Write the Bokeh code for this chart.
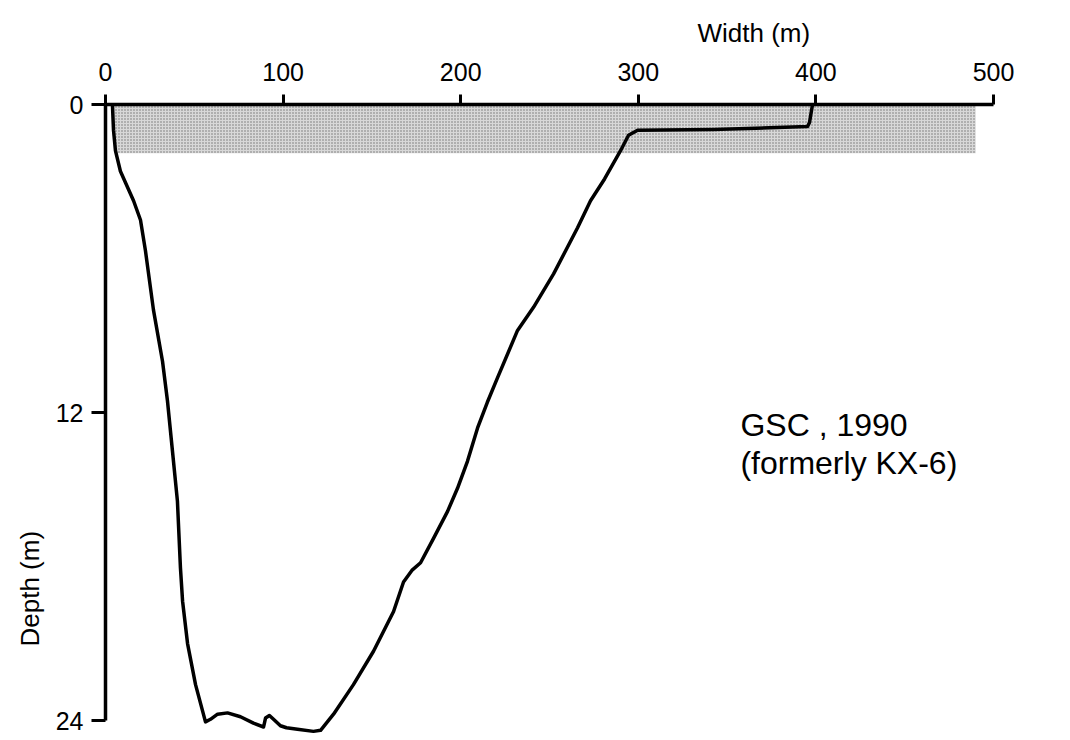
from bokeh.plotting import figure
from bokeh.models import Range1d, FixedTicker, Label, Title
from bokeh.embed import file_html
from bokeh.resources import INLINE

# Channel cross-section profile (width in m, depth in m)
width_m = [3.9, 4.5, 5.6, 8.4, 15.8, 19.7, 22.5, 27.0, 32.1, 34.9, 37.7, 40.5,
           42.2, 43.4, 46.2, 50.7, 56.3, 59.1, 63.1, 68.7, 76.0, 83.3, 89.0,
           90.1, 92.3, 94.6, 98.5, 101.9, 108.1, 117.1, 121.1, 128.4, 139.6,
           150.9, 162.2, 167.8, 172.5, 177.4, 184.7, 192.6, 198.2, 203.8,
           209.5, 215.0, 220.7, 232.0, 241.0, 252.3, 265.8, 273.1, 281.0,
           290.0, 294.5, 299.6, 342.3, 395.3, 396.4, 398.1]
depth_m = [0.0, 1.0, 1.8, 2.6, 3.75, 4.5, 5.7, 8.0, 10.0, 11.55, 13.5, 15.45,
           18.05, 19.35, 21.0, 22.6, 24.05, 23.95, 23.75, 23.7, 23.85, 24.1,
           24.25, 23.9, 23.8, 23.95, 24.2, 24.28, 24.34, 24.42, 24.38, 23.75,
           22.6, 21.3, 19.75, 18.6, 18.15, 17.85, 16.9, 15.85, 14.95, 13.9,
           12.6, 11.6, 10.65, 8.8, 7.9, 6.6, 4.8, 3.75, 2.9, 1.8, 1.2, 1.0,
           0.97, 0.86, 0.7, 0.0]

x_ticks = [0, 100, 200, 300, 400, 500]
y_ticks = [0, 12, 24]

# surface (shaded) layer
band_left = [4.8]
band_right = [490.0]
band_top = [0.0]
band_bottom = [1.9]

FONT = "Liberation Sans"

p = figure(width=1054, height=736, output_backend="svg", toolbar_location=None,
           x_range=Range1d(0, 500), y_range=Range1d(24.62, 0),
           x_axis_location="above",
           min_border_left=105, min_border_right=61,
           min_border_top=104, min_border_bottom=0)

p.outline_line_color = None
p.xgrid.visible = False
p.ygrid.visible = False
p.background_fill_color = "white"
p.border_fill_color = "white"

xa = p.xaxis[0]
xa.ticker = FixedTicker(ticks=x_ticks)
xa.bounds = (0, 500)
xa.axis_line_width = 3.5
xa.major_tick_line_width = 3
xa.major_tick_out = 10
xa.major_tick_in = 0
xa.minor_tick_line_color = None
xa.major_label_text_font = FONT
xa.major_label_text_font_size = "25px"
xa.major_label_text_color = "black"
xa.major_label_standoff = 14

ya = p.yaxis[0]
ya.ticker = FixedTicker(ticks=y_ticks)
ya.bounds = (0, 24)
ya.axis_line_width = 3.5
ya.major_tick_line_width = 3
ya.major_tick_out = 14
ya.major_tick_in = 0
ya.minor_tick_line_color = None
ya.major_label_text_font = FONT
ya.major_label_text_font_size = "25px"
ya.major_label_text_color = "black"
ya.major_label_standoff = 8

p.quad(left=band_left, right=band_right, top=band_top, bottom=band_bottom,
       fill_color="#d8d8d8", line_color=None,
       hatch_pattern="dot", hatch_color="#707070", hatch_scale=3, hatch_weight=1.2)

p.line(width_m, depth_m, line_color="black", line_width=3.5, line_join="round")

p.add_layout(Title(text="Width (m)", align="left", offset=592, text_font=FONT,
                   text_font_size="26px", text_font_style="normal",
                   text_color="black", standoff=24), "above")
p.add_layout(Title(text="Depth (m)", align="left", offset=90, text_font=FONT,
                   text_font_size="26px", text_font_style="normal",
                   text_color="black", standoff=16), "left")

p.add_layout(Label(x=357.5, y=12.5, text="GSC , 1990", text_font=FONT,
                   text_font_size="32px", text_baseline="alphabetic",
                   text_align="left", text_color="black"))
p.add_layout(Label(x=357.5, y=13.95, text="(formerly KX-6)", text_font=FONT,
                   text_font_size="32px", text_baseline="alphabetic",
                   text_align="left", text_color="black"))

open("out.html", "w").write(file_html(p, INLINE))
